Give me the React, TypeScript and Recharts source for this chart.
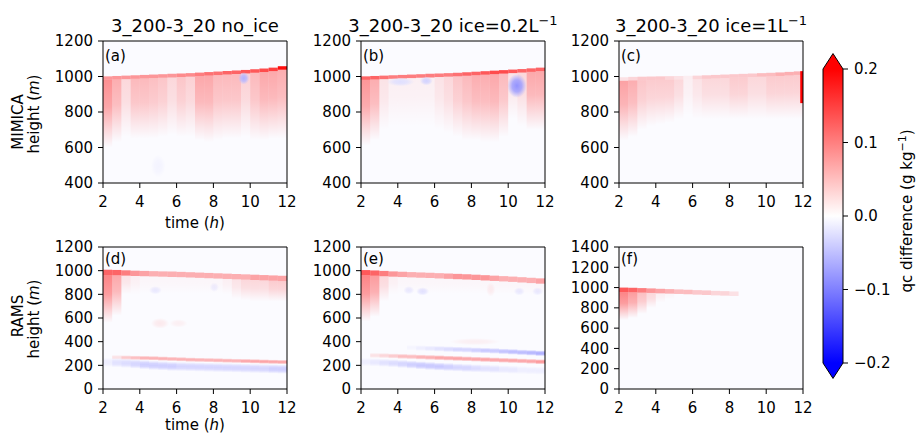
import React from 'react';
import { ComposedChart, XAxis, YAxis, ReferenceArea } from 'recharts';

// ---------- axes / ticks ----------
const COL_EDGES = [2, 2.5, 3, 3.5, 4, 4.5, 5, 5.5, 6, 6.5, 7, 7.5, 8, 8.5, 9, 9.5, 10, 10.5, 11, 11.5, 12];
const X_TICKS = [2, 4, 6, 8, 10, 12];
const Y_TICKS_MIMICA = [400, 600, 800, 1000, 1200];
const Y_TICKS_RAMS = [0, 200, 400, 600, 800, 1000, 1200];
const Y_TICKS_RAMS_F = [0, 200, 400, 600, 800, 1000, 1200, 1400];
const CB_TICKS = [-0.2, -0.1, 0, 0.1, 0.2];
const V_MAX = 0.2;

// ---------- panel (a): MIMICA no_ice ----------
const A_TOP = [1001, 1003, 1005, 1007, 1009, 1011, 1013, 1015, 1017, 1019, 1022, 1025, 1028, 1031, 1034, 1037, 1041, 1045, 1050, 1058];
const A_LINE = [0.08, 0.08, 0.08, 0.08, 0.08, 0.08, 0.08, 0.08, 0.09, 0.09, 0.1, 0.11, 0.11, 0.12, 0.12, 0.13, 0.13, 0.14, 0.15, 0.19];
const A_BODY = [0.09, 0.065, 0.03, 0.055, 0.055, 0.05, 0.045, 0.03, 0.045, 0.035, 0.07, 0.07, 0.055, 0.055, 0.055, 0.035, 0.055, 0.07, 0.07, 0.065];
const A_BASE = [600, 630, 660, 650, 650, 650, 660, 670, 660, 660, 640, 630, 640, 650, 650, 660, 640, 640, 650, 650];
const A_SPOTS = [
  { t0: 9.35, t1: 9.95, h0: 955, h1: 1025, v: -0.06 },
  { t0: 4.6, t1: 5.4, h0: 430, h1: 560, v: -0.006 },
];

// ---------- panel (b): MIMICA ice=0.2 ----------
const B_TOP = [1001, 1003, 1005, 1007, 1009, 1011, 1013, 1015, 1017, 1019, 1021, 1024, 1027, 1030, 1033, 1036, 1039, 1042, 1046, 1050];
const B_LINE = [0.12, 0.12, 0.11, 0.1, 0.1, 0.1, 0.1, 0.1, 0.1, 0.1, 0.11, 0.12, 0.12, 0.13, 0.14, 0.14, 0.13, 0.12, 0.12, 0.12];
const B_BODY = [0.085, 0.065, 0.02, 0.01, 0.01, 0.01, 0.01, 0.01, 0.02, 0.03, 0.045, 0.055, 0.065, 0.065, 0.07, 0.055, 0.02, 0.03, 0.07, 0.07];
const B_BASE = [610, 640, 700, 720, 720, 720, 720, 720, 700, 680, 660, 640, 640, 630, 630, 660, 760, 720, 700, 700];
const B_SPOTS = [
  { t0: 3.4, t1: 4.9, h0: 945, h1: 995, v: -0.025 },
  { t0: 5.2, t1: 5.9, h0: 950, h1: 1000, v: -0.035 },
  { t0: 9.95, t1: 11.0, h0: 880, h1: 1015, v: -0.085 },
];

// ---------- panel (c): MIMICA ice=1 ----------
const C_TOP = [996, 998, 999, 1000, 1001, 1002, 1003, 1004, 1005, 1007, 1009, 1011, 1013, 1015, 1017, 1019, 1021, 1023, 1026, 1029];
const C_LINE = [0.02, 0.03, 0.04, 0.04, 0.04, 0.03, 0.02, 0.01, 0.03, 0.04, 0.04, 0.04, 0.04, 0.04, 0.04, 0.05, 0.05, 0.06, 0.06, 0.06];
const C_BODY = [0.075, 0.065, 0.045, 0.04, 0.04, 0.04, 0.03, 0.01, 0.02, 0.03, 0.03, 0.03, 0.04, 0.04, 0.03, 0.03, 0.04, 0.04, 0.04, 0.04];
const C_BASE = [640, 660, 700, 720, 730, 740, 760, 780, 760, 760, 760, 760, 760, 760, 760, 760, 760, 760, 760, 760];
const C_EDGE = [{ t0: 11.85, t1: 12, h0: 850, h1: 1030, v: 0.2 }];

// ---------- panel (d): RAMS no_ice ----------
const D_TOP = [1008, 1006, 1003, 1000, 998, 996, 994, 992, 990, 987, 984, 981, 978, 975, 972, 969, 966, 963, 960, 957];
const D_LINE = [0.12, 0.12, 0.1, 0.08, 0.07, 0.06, 0.06, 0.06, 0.06, 0.06, 0.06, 0.06, 0.06, 0.06, 0.06, 0.06, 0.07, 0.07, 0.07, 0.07];
const D_BODY = [0.1, 0.07, 0.02, 0.01, 0.005, 0.005, 0.005, 0.005, 0.005, 0.005, 0.005, 0.005, 0.005, 0.01, 0.02, 0.03, 0.03, 0.03, 0.04, 0.04];
const D_BASE = [560, 620, 800, 800, 800, 800, 800, 800, 800, 800, 800, 800, 800, 800, 760, 750, 740, 740, 740, 740];
const D_RED_MID = [270, 268, 266, 264, 262, 260, 257, 254, 251, 248, 246, 244, 242, 240, 238, 236, 234, 232, 230, 228];
const D_RED_V = [0, 0.02, 0.04, 0.05, 0.06, 0.06, 0.06, 0.06, 0.06, 0.06, 0.06, 0.06, 0.06, 0.06, 0.06, 0.07, 0.07, 0.07, 0.07, 0.07];
const D_BLUE_MID = [225, 222, 218, 212, 206, 200, 196, 192, 190, 188, 186, 184, 182, 180, 178, 176, 174, 172, 170, 168];
const D_BLUE_V = [-0.01, -0.02, -0.025, -0.03, -0.035, -0.035, -0.035, -0.035, -0.03, -0.03, -0.03, -0.03, -0.03, -0.03, -0.03, -0.03, -0.03, -0.03, -0.035, -0.035];
const D_SPOTS = [
  { t0: 4.5, t1: 5.2, h0: 800, h1: 870, v: -0.015 },
  { t0: 7.8, t1: 8.3, h0: 820, h1: 900, v: -0.012 },
  { t0: 4.6, t1: 5.6, h0: 510, h1: 600, v: 0.015 },
  { t0: 5.6, t1: 6.6, h0: 520, h1: 590, v: 0.01 },
];

// ---------- panel (e): RAMS ice=0.2 ----------
const E_TOP = [1005, 1002, 998, 994, 991, 988, 985, 982, 979, 976, 973, 970, 966, 962, 958, 954, 950, 945, 940, 935];
const E_LINE = [0.13, 0.12, 0.1, 0.08, 0.07, 0.06, 0.06, 0.06, 0.06, 0.07, 0.08, 0.08, 0.08, 0.08, 0.07, 0.06, 0.06, 0.06, 0.06, 0.07];
const E_BODY = [0.1, 0.08, 0.03, 0.01, 0.005, 0.005, 0.005, 0.005, 0.005, 0.005, 0.005, 0.005, 0.005, 0.005, 0.005, 0.005, 0.005, 0.005, 0.005, 0.005];
const E_BASE = [570, 610, 740, 800, 800, 800, 800, 800, 800, 800, 800, 800, 800, 800, 800, 800, 800, 800, 800, 800];
const E_BLUE_HI_MID = [350, 350, 350, 350, 350, 350, 346, 343, 340, 337, 334, 331, 328, 325, 322, 318, 314, 310, 306, 302];
const E_BLUE_HI_V = [0, 0, 0, 0, 0, -0.005, -0.01, -0.015, -0.02, -0.025, -0.03, -0.03, -0.035, -0.04, -0.04, -0.045, -0.05, -0.05, -0.055, -0.06];
const E_RED_MID = [285, 284, 282, 279, 276, 273, 270, 267, 264, 261, 258, 255, 252, 249, 246, 243, 240, 237, 234, 230];
const E_RED_V = [0, 0.02, 0.03, 0.04, 0.05, 0.05, 0.06, 0.06, 0.07, 0.07, 0.07, 0.07, 0.07, 0.07, 0.07, 0.07, 0.07, 0.07, 0.07, 0.08];
const E_BLUE_LO_MID = [228, 226, 222, 218, 212, 206, 200, 195, 190, 186, 182, 178, 175, 172, 169, 166, 163, 160, 157, 155];
const E_BLUE_LO_V = [-0.01, -0.015, -0.02, -0.025, -0.03, -0.035, -0.04, -0.04, -0.04, -0.035, -0.03, -0.03, -0.025, -0.02, -0.02, -0.015, -0.015, -0.01, -0.01, -0.01];
const E_SPOTS = [
  { t0: 4.3, t1: 4.9, h0: 800, h1: 870, v: -0.015 },
  { t0: 5.0, t1: 5.7, h0: 790, h1: 860, v: -0.02 },
  { t0: 10.3, t1: 10.9, h0: 790, h1: 860, v: -0.015 },
  { t0: 11.3, t1: 11.9, h0: 790, h1: 860, v: -0.015 },
  { t0: 8.8, t1: 9.3, h0: 780, h1: 900, v: 0.012 },
  { t0: 6.8, t1: 9.6, h0: 370, h1: 430, v: 0.01 },
];

// ---------- panel (f): RAMS ice=1 ----------
const F_TOP = [1000, 998, 995, 992, 988, 985, 982, 978, 975, 972, 968, 965, 962, 960, 960, 960, 960, 960, 960, 960];
const F_LINE = [0.13, 0.12, 0.1, 0.08, 0.07, 0.06, 0.05, 0.05, 0.04, 0.04, 0.03, 0.03, 0.02, 0, 0, 0, 0, 0, 0, 0];
const F_BODY = [0.1, 0.08, 0.05, 0.03, 0.01, 0.005, 0, 0, 0, 0, 0, 0, 0, 0, 0, 0, 0, 0, 0, 0];
const F_BASE = [680, 700, 740, 800, 850, 880, 900, 900, 900, 900, 900, 900, 900, 900, 900, 900, 900, 900, 900, 900];

// ---------- cell builders ----------
type Kind = 'solid' | 'fade' | 'soft' | 'blob' | 'clear';
type Cell = { x1: number; x2: number; y1: number; y2: number; v: number; kind: Kind };
type Spot = { t0: number; t1: number; h0: number; h1: number; v: number };

const shift = (a: number[], d: number) => a.map((x) => x + d);

function colCells(lo: number[], hi: number[], v: number[], kind: Kind): Cell[] {
  return v
    .map((val, i) => ({ x1: COL_EDGES[i], x2: COL_EDGES[i + 1], y1: lo[i], y2: hi[i], v: val, kind }))
    .filter((c) => c.v !== 0);
}
function cloudCells(top: number[], line: number[], body: number[], base: number[], depth: number): Cell[] {
  return [
    ...colCells(base, shift(top, -depth), body, 'fade'),
    ...colCells(shift(top, -depth), top, line, 'solid'),
  ];
}
function bandCells(mid: number[], v: number[], depth: number): Cell[] {
  return colCells(shift(mid, -depth / 2), shift(mid, depth / 2), v, 'soft');
}
function spotCells(spots: Spot[], kind: Kind): Cell[] {
  const out: Cell[] = [];
  spots.forEach((s) => {
    if (kind === 'blob' && s.v < -0.02) out.push({ x1: s.t0, x2: s.t1, y1: s.h0, y2: s.h1, v: 0.2, kind: 'clear' });
    out.push({ x1: s.t0, x2: s.t1, y1: s.h0, y2: s.h1, v: s.v, kind });
  });
  return out;
}

const CELLS_A = [...cloudCells(A_TOP, A_LINE, A_BODY, A_BASE, 20), ...spotCells(A_SPOTS, 'blob')];
const CELLS_B = [...cloudCells(B_TOP, B_LINE, B_BODY, B_BASE, 20), ...spotCells(B_SPOTS, 'blob')];
const CELLS_C = [...cloudCells(C_TOP, C_LINE, C_BODY, C_BASE, 20), ...spotCells(C_EDGE, 'solid')];
const CELLS_D = [
  ...cloudCells(D_TOP, D_LINE, D_BODY, D_BASE, 45),
  ...bandCells(D_BLUE_MID, D_BLUE_V, 80),
  ...bandCells(D_RED_MID, D_RED_V, 40),
  ...spotCells(D_SPOTS, 'blob'),
];
const CELLS_E = [
  ...cloudCells(E_TOP, E_LINE, E_BODY, E_BASE, 45),
  ...bandCells(E_BLUE_LO_MID, E_BLUE_LO_V, 70),
  ...bandCells(E_BLUE_HI_MID, E_BLUE_HI_V, 50),
  ...bandCells(E_RED_MID, E_RED_V, 45),
  ...spotCells(E_SPOTS, 'blob'),
];
const CELLS_F = [...cloudCells(F_TOP, F_LINE, F_BODY, F_BASE, 45)];

// ---------- styles ----------
const FONT = 'DejaVu Sans';
const TICK_STYLE = { fill: '#000', fontSize: 15, fontFamily: FONT };
const PLOT_W = 184;
const PLOT_H = 142;
const Y_AXIS_W = 60;
const X_AXIS_H = 30;
const PAD_T = 10;
const PAD_R = 10;

function fillFor(id: string, c: Cell): string {
  const col = c.v >= 0 ? 'R' : 'B';
  if (c.kind === 'solid') return c.v >= 0 ? '#ff0000' : '#0000ff';
  if (c.kind === 'fade') return `url(#${id}-fade${col})`;
  if (c.kind === 'soft') return `url(#${id}-soft${col})`;
  if (c.kind === 'clear') return `url(#${id}-blobW)`;
  return `url(#${id}-blob${col})`;
}

function Defs({ id }: { id: string }) {
  const lin = (name: string, color: string, stops: [number, number][]) => (
    <linearGradient id={`${id}-${name}`} x1="0" y1="0" x2="0" y2="1">
      {stops.map(([o, a], i) => (
        <stop key={i} offset={o} stopColor={color} stopOpacity={a} />
      ))}
    </linearGradient>
  );
  const rad = (name: string, color: string) => (
    <radialGradient id={`${id}-${name}`} cx="0.5" cy="0.5" r="0.5">
      <stop offset={0} stopColor={color} stopOpacity={1} />
      <stop offset={0.5} stopColor={color} stopOpacity={0.75} />
      <stop offset={1} stopColor={color} stopOpacity={0} />
    </radialGradient>
  );
  const fade: [number, number][] = [[0, 0.95], [0.4, 0.75], [0.75, 0.3], [1, 0]];
  const soft: [number, number][] = [[0, 0], [0.3, 0.85], [0.5, 1], [0.7, 0.85], [1, 0]];
  return (
    <defs>
      {lin('fadeR', '#ff0000', fade)}
      {lin('fadeB', '#0000ff', fade)}
      {lin('softR', '#ff0000', soft)}
      {lin('softB', '#0000ff', soft)}
      {rad('blobR', '#ff0000')}
      {rad('blobB', '#0000ff')}
      {rad('blobW', '#ffffff')}
    </defs>
  );
}

function Panel({ id, yDomain, yTicks, cells }: { id: string; yDomain: [number, number]; yTicks: number[]; cells: Cell[] }) {
  return (
    <ComposedChart
      width={Y_AXIS_W + PLOT_W + PAD_R}
      height={PAD_T + PLOT_H + X_AXIS_H}
      margin={{ top: PAD_T, right: PAD_R, bottom: 0, left: 0 }}
    >
      <Defs id={id} />
      <XAxis
        type="number"
        dataKey="t"
        domain={[2, 12]}
        ticks={X_TICKS}
        interval={0}
        allowDataOverflow
        height={X_AXIS_H}
        tickSize={5}
        tickMargin={8}
        axisLine={false}
        tickLine={{ stroke: '#000' }}
        tick={TICK_STYLE}
      />
      <YAxis
        type="number"
        dataKey="h"
        domain={yDomain}
        ticks={yTicks}
        interval={0}
        allowDataOverflow
        width={Y_AXIS_W}
        tickSize={5}
        tickMargin={5}
        axisLine={false}
        tickLine={{ stroke: '#000' }}
        tick={TICK_STYLE}
      />
      <ReferenceArea x1={2} x2={12} y1={yDomain[0]} y2={yDomain[1]} fill="#0000ff" fillOpacity={0.015} stroke="none" ifOverflow="hidden" />
      {cells.map((c, i) => (
        <ReferenceArea
          key={i}
          x1={c.x1}
          x2={c.x2}
          y1={c.y1}
          y2={c.y2}
          fill={fillFor(id, c)}
          fillOpacity={Math.min(1, Math.abs(c.v) / V_MAX)}
          stroke="none"
          ifOverflow="hidden"
        />
      ))}
      <ReferenceArea x1={2} x2={12} y1={yDomain[0]} y2={yDomain[1]} fill="none" stroke="#000" strokeWidth={1} ifOverflow="visible" />
    </ComposedChart>
  );
}

// ---------- colorbar ----------
const CbBody = (p: any) => (
  <g>
    <rect x={p.x} y={p.y} width={p.width} height={p.height} fill="url(#cb-grad)" />
    <line x1={p.x} y1={p.y} x2={p.x} y2={p.y + p.height} stroke="#000" strokeWidth={1} />
    <line x1={p.x + p.width} y1={p.y} x2={p.x + p.width} y2={p.y + p.height} stroke="#000" strokeWidth={1} />
  </g>
);
const TriUp = (p: any) => (
  <g>
    <path d={`M${p.x},${p.y + p.height} L${p.x + p.width / 2},${p.y} L${p.x + p.width},${p.y + p.height} Z`} fill="#ff0000" />
    <path d={`M${p.x},${p.y + p.height} L${p.x + p.width / 2},${p.y} L${p.x + p.width},${p.y + p.height}`} fill="none" stroke="#000" strokeWidth={1} />
  </g>
);
const TriDown = (p: any) => (
  <g>
    <path d={`M${p.x},${p.y} L${p.x + p.width / 2},${p.y + p.height} L${p.x + p.width},${p.y} Z`} fill="#0000ff" />
    <path d={`M${p.x},${p.y} L${p.x + p.width / 2},${p.y + p.height} L${p.x + p.width},${p.y}`} fill="none" stroke="#000" strokeWidth={1} />
  </g>
);
const cbFormat = (v: number) => (v === 0 ? '0.0' : (v < 0 ? '\u2212' : '') + Math.abs(v).toFixed(1));

function ColorBar() {
  return (
    <ComposedChart width={75} height={334} margin={{ top: 20, right: 0, bottom: 20, left: 5 }}>
      <defs>
        <linearGradient id="cb-grad" x1="0" y1="0" x2="0" y2="1">
          <stop offset="0" stopColor="#ff0000" />
          <stop offset="0.5" stopColor="#ffffff" />
          <stop offset="1" stopColor="#0000ff" />
        </linearGradient>
      </defs>
      <XAxis type="number" dataKey="x" domain={[0, 1]} allowDataOverflow hide />
      <YAxis
        type="number"
        dataKey="v"
        orientation="right"
        domain={[-0.2, 0.2]}
        ticks={CB_TICKS}
        interval={0}
        allowDataOverflow
        width={50}
        axisLine={false}
        tickSize={5}
        tickMargin={6}
        tickLine={{ stroke: '#000' }}
        tick={TICK_STYLE}
        tickFormatter={cbFormat}
      />
      <ReferenceArea x1={0} x2={1} y1={-0.2} y2={0.2} shape={CbBody} ifOverflow="visible" />
      <ReferenceArea x1={0} x2={1} y1={0.2} y2={0.221} shape={TriUp} ifOverflow="visible" />
      <ReferenceArea x1={0} x2={1} y1={-0.221} y2={-0.2} shape={TriDown} ifOverflow="visible" />
    </ComposedChart>
  );
}

// ---------- layout ----------
const COLS = [103, 361, 619];
const ROWS = [41, 247];

const PANELS = [
  { id: 'pa', label: '(a)', col: 0, row: 0, yDomain: [400, 1200] as [number, number], yTicks: Y_TICKS_MIMICA, cells: CELLS_A },
  { id: 'pb', label: '(b)', col: 1, row: 0, yDomain: [400, 1200] as [number, number], yTicks: Y_TICKS_MIMICA, cells: CELLS_B },
  { id: 'pc', label: '(c)', col: 2, row: 0, yDomain: [400, 1200] as [number, number], yTicks: Y_TICKS_MIMICA, cells: CELLS_C },
  { id: 'pd', label: '(d)', col: 0, row: 1, yDomain: [0, 1200] as [number, number], yTicks: Y_TICKS_RAMS, cells: CELLS_D },
  { id: 'pe', label: '(e)', col: 1, row: 1, yDomain: [0, 1200] as [number, number], yTicks: Y_TICKS_RAMS, cells: CELLS_E },
  { id: 'pf', label: '(f)', col: 2, row: 1, yDomain: [0, 1400] as [number, number], yTicks: Y_TICKS_RAMS_F, cells: CELLS_F },
];

const TITLES = ['3_200-3_20 no_ice', '3_200-3_20 ice=0.2L', '3_200-3_20 ice=1L'];

export default function App() {
  return (
    <div style={{ position: 'absolute', left: 0, top: 0, width: 919, height: 435, background: '#fff', overflow: 'hidden' }}>
      {PANELS.map((p) => (
        <div key={p.id} style={{ position: 'absolute', left: COLS[p.col] - Y_AXIS_W, top: ROWS[p.row] - PAD_T }}>
          <Panel id={p.id} yDomain={p.yDomain} yTicks={p.yTicks} cells={p.cells} />
        </div>
      ))}
      <div style={{ position: 'absolute', left: 818, top: 49 }}>
        <ColorBar />
      </div>
      <svg
        width={919}
        height={435}
        style={{ position: 'absolute', left: 0, top: 0, pointerEvents: 'none' }}
        fontFamily={FONT}
        fill="#000"
      >
        <text x={COLS[0] + PLOT_W / 2} y={32} fontSize={18} textAnchor="middle">{TITLES[0]}</text>
        <text x={COLS[1] + PLOT_W / 2} y={32} fontSize={18} textAnchor="middle">
          {TITLES[1]}
          <tspan dy={-7} fontSize={13}>{'\u22121'}</tspan>
        </text>
        <text x={COLS[2] + PLOT_W / 2} y={32} fontSize={18} textAnchor="middle">
          {TITLES[2]}
          <tspan dy={-7} fontSize={13}>{'\u22121'}</tspan>
        </text>
        {PANELS.map((p) => (
          <text key={p.id} x={COLS[p.col] + 2} y={ROWS[p.row] + (p.row === 0 ? 20 : 17)} fontSize={15}>{p.label}</text>
        ))}
        <text x={COLS[0] + PLOT_W / 2} y={228} fontSize={15} textAnchor="middle">
          time (<tspan fontStyle="italic">h</tspan>)
        </text>
        <text x={COLS[0] + PLOT_W / 2} y={430} fontSize={15} textAnchor="middle">
          time (<tspan fontStyle="italic">h</tspan>)
        </text>
        <text x={22.5} y={122} fontSize={15} textAnchor="middle" transform="rotate(-90, 22.5, 122)">MIMICA</text>
        <text x={39} y={114} fontSize={15} textAnchor="middle" transform="rotate(-90, 39, 114)">
          height (<tspan fontStyle="italic">m</tspan>)
        </text>
        <text x={22.5} y={316} fontSize={15} textAnchor="middle" transform="rotate(-90, 22.5, 316)">RAMS</text>
        <text x={39} y={319} fontSize={15} textAnchor="middle" transform="rotate(-90, 39, 319)">
          height (<tspan fontStyle="italic">m</tspan>)
        </text>
        <text x={912} y={211} fontSize={15} textAnchor="middle" transform="rotate(-90, 912, 211)">
          qc difference (g kg<tspan dy={-6} fontSize={11}>{'\u22121'}</tspan>
          <tspan dy={6}>)</tspan>
        </text>
      </svg>
    </div>
  );
}
